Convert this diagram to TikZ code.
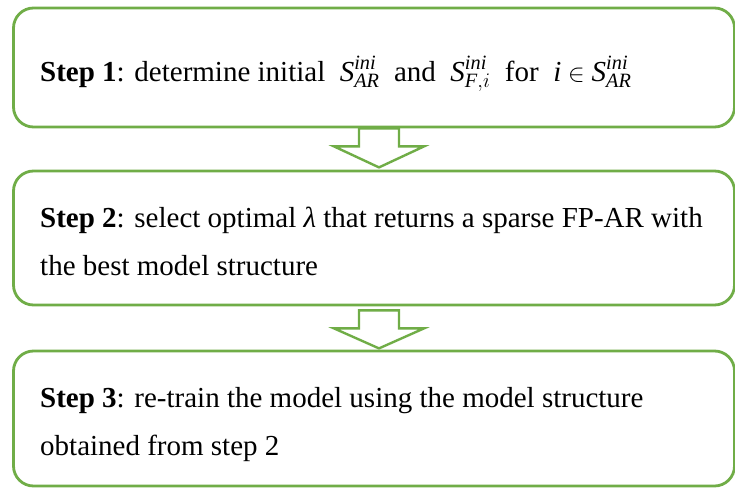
\documentclass[tikz,border=0pt]{standalone}
\usepackage{amsmath}
\usepackage{fontspec}
\setmainfont{Liberation Serif}
\usetikzlibrary{calc}
\definecolor{stepgreen}{HTML}{70AD47}
\begin{document}
\begin{tikzpicture}[x=1pt,y=1pt,
  stepbox/.style={draw=stepgreen,line width=2.8pt,rounded corners=20pt,fill=white,inner sep=0pt},
  steptext/.style={anchor=base west,inner sep=0pt,font=\fontsize{29}{34}\selectfont},
  hollowarrow/.style={draw=stepgreen,line width=2.4pt,fill=white,line join=miter}]
\useasboundingbox (0,0) rectangle (735,-487);
\node[stepbox,minimum width=721pt,minimum height=119pt] (b1) at (374,-67.5) {};
\node[stepbox,minimum width=721pt,minimum height=134pt] (b2) at (374,-238) {};
\node[stepbox,minimum width=721pt,minimum height=135pt] (b3) at (374,-418.5) {};
% hollow arrows
\coordinate (a1) at ($(b1.south)+(5,0)$);
\draw[hollowarrow] (a1) ++(-20,0) -- ++(0,-18) -- ++(-25,0) -- ++(45,-21) -- ++(45,21) -- ++(-25,0) -- ++(0,18) -- cycle;
\coordinate (a2) at ($(b2.south)+(5,-4)$);
\draw[hollowarrow] (a2) ++(-20,0) -- ++(0,-18) -- ++(-25,0) -- ++(45,-20) -- ++(45,20) -- ++(-25,0) -- ++(0,18) -- cycle;
% texts
\node[steptext] (t1) at (40,-81) {\textbf{Step 1}: determine initial \ $\textit{S}_{\textit{AR}}^{\textit{ini}}$ \ and \ $\textit{S}_{\textit{F},i}^{\textit{ini}}$ \ for \ $\textit{i}\in \textit{S}_{\textit{AR}}^{\textit{ini}}$};
\node[steptext] (t2a) at (40,-227) {\textbf{Step 2}: select optimal \textit{λ} that returns a sparse FP-AR with};
\node[steptext] (t2b) at (40,-275) {the best model structure};
\node[steptext] (t3a) at (40,-407) {\textbf{Step 3}: re-train the model using the model structure};
\node[steptext] (t3b) at (40,-455) {obtained from step 2};
\end{tikzpicture}
\end{document}
